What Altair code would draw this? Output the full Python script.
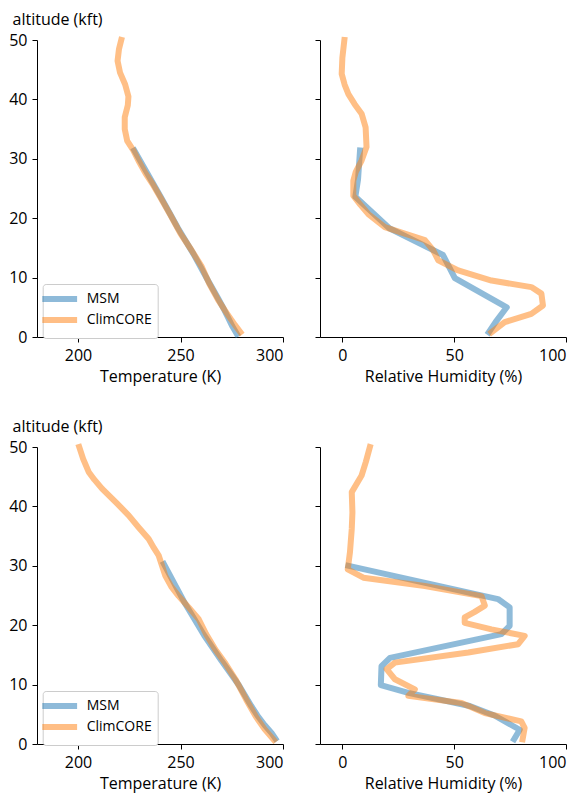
import altair as alt
import pandas as pd

series_names = ["MSM", "ClimCORE"]
series_colors = ["#1f77b4", "#ff7f0e"]

# ---- Top row: temperature profile ----
msm_t1_alt = [0.5, 1.8, 3.2, 4.8, 6.4, 9.9, 14.0, 18.3, 23.6, 31.4]
msm_t1_val = [277.5, 275.3, 273.3, 271.0, 268.5, 262.8, 256.3, 248.8, 240.3, 227.5]
clm_t1_alt = [0.8, 2.0, 3.9, 6.2, 9.0, 11.8, 14.6, 17.4, 20.7, 23.6, 25.8, 27.5, 29.5,
              31.4, 33.0, 35.0, 37.0, 39.0, 40.5, 42.5, 44.5, 46.5, 48.5, 50.0]
clm_t1_val = [279.2, 276.6, 272.8, 268.4, 264.0, 260.4, 255.4, 250.0, 244.8, 240.0, 236.3, 233.0, 229.8,
              227.0, 224.0, 222.8, 222.8, 224.3, 224.6, 223.0, 220.5, 219.3, 220.0, 221.1]

# ---- Top row: relative humidity ----
msm_r1_alt = [0.8, 2.5, 5.0, 9.9, 13.8, 18.3, 23.6, 26.5, 31.4]
msm_r1_val = [65.5, 68.5, 73.5, 50.3, 45.0, 21.0, 5.8, 7.0, 7.9]
clm_r1_alt = [0.8, 2.5, 3.9, 5.3, 7.3, 8.4, 9.5, 11.2, 12.9, 14.6, 16.3, 17.4, 18.5, 20.7,
              22.3, 23.8, 26.3, 27.8, 29.7, 32.0, 35.3, 37.6, 39.2, 40.9, 42.5, 44.3, 47.0, 50.0]
clm_r1_val = [66.7, 72.6, 84.5, 89.7, 89.0, 84.5, 66.7, 51.8, 42.9, 40.6, 36.9, 27.9, 19.0, 11.6,
              8.0, 4.9, 4.9, 6.0, 8.6, 10.8, 10.4, 8.6, 5.5, 2.7, 1.0, -0.3, 0.0, 0.9]

# ---- Bottom row: temperature profile ----
msm_t2_alt = [0.9, 1.8, 3.2, 4.8, 6.4, 9.9, 14.0, 18.3, 23.6, 30.3]
msm_t2_val = [296.3, 294.5, 291.0, 287.5, 284.5, 278.5, 270.0, 261.5, 252.3, 241.9]
clm_t2_alt = [0.7, 2.5, 4.7, 7.5, 10.9, 13.5, 15.9, 18.5, 21.0, 23.0, 24.9, 26.5, 28.3, 30.0,
              31.7, 33.0, 34.5, 36.5, 38.5, 40.5, 43.0, 44.5, 45.8, 48.0, 50.0]
clm_t2_val = [295.5, 291.0, 286.6, 282.0, 276.8, 272.0, 267.0, 262.5, 258.9, 254.0, 249.1, 245.5, 242.6, 241.0,
              239.4, 237.0, 234.5, 229.5, 224.7, 219.0, 211.7, 208.0, 205.2, 202.5, 200.6]

# ---- Bottom row: relative humidity ----
msm_r2_alt = [0.8, 2.4, 4.8, 6.4, 8.6, 9.9, 13.1, 14.5, 18.5, 19.9, 23.0, 24.4, 30.0]
msm_r2_val = [76.8, 79.3, 68.0, 57.0, 29.5, 17.2, 17.5, 21.3, 71.1, 74.8, 74.8, 69.6, 2.7]
clm_r2_alt = [0.8, 2.7, 3.8, 5.2, 6.9, 8.1, 9.2, 10.9, 12.6, 13.7, 15.4, 16.8, 18.2, 19.3, 20.4,
              21.3, 22.2, 23.3, 24.9, 26.6, 28.0, 29.4, 32.3, 36.2, 39.0, 42.4, 45.2, 47.5, 50.0]
clm_r2_val = [80.6, 81.5, 80.0, 63.7, 53.3, 29.5, 32.4, 23.5, 19.8, 23.5, 56.3, 78.6, 81.5, 66.7, 54.7,
              54.7, 59.0, 63.7, 62.2, 36.9, 9.4, 2.4, 3.4, 4.2, 4.5, 4.2, 8.6, 10.5, 12.3]

FONT = "Open Sans"
W, H = 246, 297


def frame(alts, vals, name):
    return pd.DataFrame({"alt": alts, "val": vals, "series": name,
                         "idx": list(range(len(alts)))})


def panel(msm_a, msm_v, clm_a, clm_v, xdom, xticks, xtitle, left):
    d_msm = frame(msm_a, msm_v, "MSM")
    d_clm = frame(clm_a, clm_v, "ClimCORE")
    xenc = alt.X("val:Q", scale=alt.Scale(domain=xdom, nice=False, zero=False),
                 axis=alt.Axis(values=xticks, title=xtitle, titleY=44,
                               titleBaseline="alphabetic"))
    if left:
        yaxis = alt.Axis(values=[0, 10, 20, 30, 40, 50], title="altitude (kft)",
                         titleAngle=0, titleAlign="left", titleBaseline="alphabetic",
                         titleX=-25, titleY=-16)
        legend = alt.Legend(title=None, orient="none", legendX=5.7, legendY=244,
                            symbolType="M-2.9,0H2.9", symbolSize=144, symbolStrokeWidth=6,
                            symbolOpacity=0.5, labelFontSize=14, labelFont=FONT,
                            fillColor="white", strokeColor="#cccccc", cornerRadius=3,
                            padding=6, labelOffset=18, rowPadding=-4, symbolOffset=2)
    else:
        yaxis = alt.Axis(values=[0, 10, 20, 30, 40, 50], title=None, labels=False)
        legend = None
    yenc = alt.Y("alt:Q", scale=alt.Scale(domain=[0, 50], nice=False), axis=yaxis)
    cenc = alt.Color("series:N", scale=alt.Scale(domain=series_names, range=series_colors),
                     legend=legend)
    base = dict(strokeWidth=6, opacity=0.5, strokeCap="square", strokeJoin="round")
    l1 = alt.Chart(d_msm).mark_line(**base).encode(x=xenc, y=yenc, color=cenc, order="idx:Q")
    l2 = alt.Chart(d_clm).mark_line(**base).encode(x=xenc, y=yenc, color=cenc, order="idx:Q")
    return alt.layer(l1, l2).properties(width=W, height=H)


tl = panel(msm_t1_alt, msm_t1_val, clm_t1_alt, clm_t1_val, [180, 300], [200, 250, 300], "Temperature (K)", True)
tr = panel(msm_r1_alt, msm_r1_val, clm_r1_alt, clm_r1_val, [-10, 100], [0, 50, 100], "Relative Humidity (%)", False)
bl = panel(msm_t2_alt, msm_t2_val, clm_t2_alt, clm_t2_val, [180, 300], [200, 250, 300], "Temperature (K)", True)
br = panel(msm_r2_alt, msm_r2_val, clm_r2_alt, clm_r2_val, [-10, 100], [0, 50, 100], "Relative Humidity (%)", False)

chart = alt.concat(tl, tr, bl, br, columns=2, spacing={"row": 110, "column": 37},
                   bounds="flush").resolve_scale(
    color="independent").resolve_legend(color="independent").properties(
    padding={"left": 0, "top": 3, "right": 5, "bottom": 5}
).configure_view(stroke=None).configure_axis(
    grid=False, domainColor="black", tickColor="black", labelColor="black",
    titleColor="black", labelFont=FONT, titleFont=FONT, labelFontSize=16,
    titleFontSize=16, titleFontWeight="normal", tickSize=5, labelPadding=5,
    domainWidth=1, tickWidth=1
)

chart.save("out.html", embed_options={"renderer": "svg", "actions": False})
